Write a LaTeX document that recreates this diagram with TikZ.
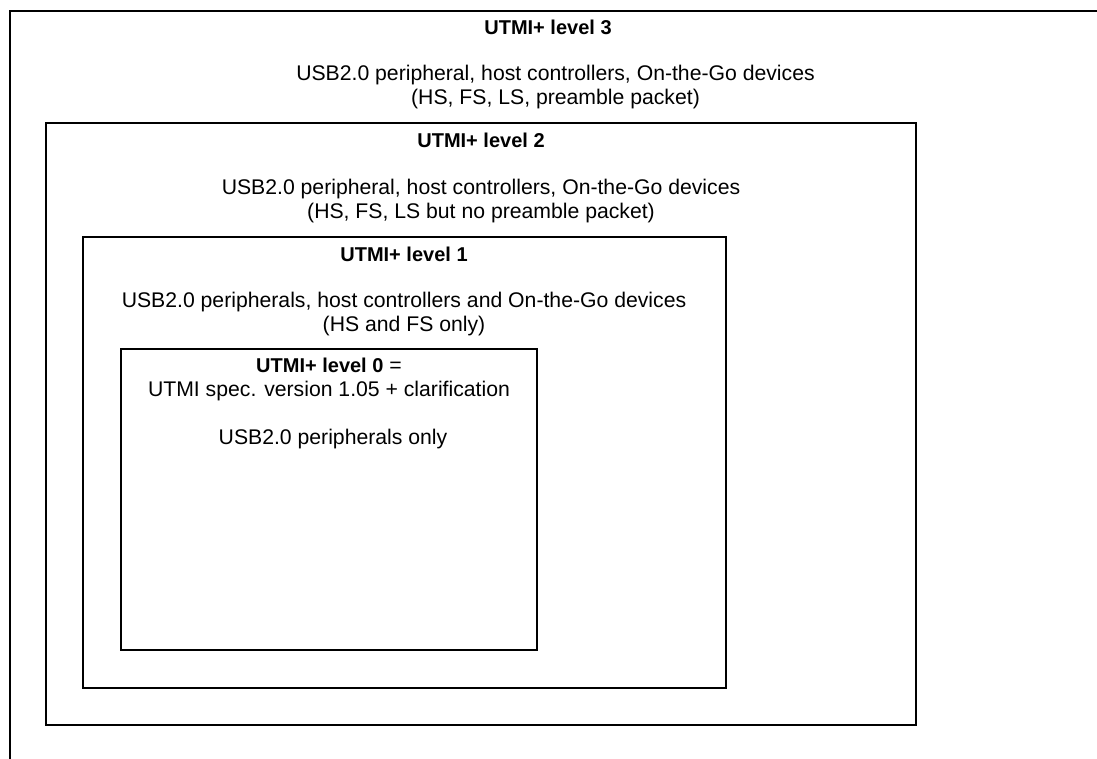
\documentclass[tikz,border=0pt]{standalone}
\usepackage{fontspec}
\setmainfont{Liberation Sans}
\usepackage{tikz}
\tikzset{
  levelbox/.style={draw=black,line width=2pt,inner sep=0pt},
  leveltext/.style={align=center,inner sep=0pt,font=\fontsize{21.2}{24}\selectfont},
}
\newcommand{\leveltitle}[1]{{\fontsize{20}{24}\selectfont\bfseries #1}}

\begin{document}
\begin{tikzpicture}[scale=1.000000,x=1pt,y=1pt]
\clip (0.000000, 0.000000) rectangle (1097.000000, 759.000000);
\fill[color=white] (0.000000, 0.000000) rectangle (1097.000000, 759.000000);
% Drawing boxes
\node[levelbox,minimum width=1200pt,minimum height=800pt,anchor=north west] (lvlthree) at (9.000000, 749.000000) {};
\node[levelbox,minimum width=870pt,minimum height=602pt] (lvltwo) at (481.000000, 335.000000) {};
\node[levelbox,minimum width=643pt,minimum height=451pt] (lvlone) at (404.500000, 296.500000) {};
\node[levelbox,minimum width=416pt,minimum height=301pt] (lvlzero) at (329.000000, 259.500000) {};
% Done with boxes; drawing texts
% Level 3
\node[leveltext] (titlethree) at (548.000000, 732.000000) {\leveltitle{UTMI+ level 3}};
\node[leveltext] (descthree) at (555.500000, 672.000000) {USB2.0 peripheral, host controllers, On-the-Go devices\\(HS, FS, LS, preamble packet)};
% Level 2
\node[leveltext] (titletwo) at (481.000000, 619.000000) {\leveltitle{UTMI+ level 2}};
\node[leveltext] (desctwo) at (481.000000, 558.000000) {USB2.0 peripheral, host controllers, On-the-Go devices\\(HS, FS, LS but no preamble packet)};
% Level 1
\node[leveltext] (titleone) at (404.000000, 505.000000) {\leveltitle{UTMI+ level 1}};
\node[leveltext] (descone) at (404.000000, 445.000000) {USB2.0 peripherals, host controllers and On-the-Go devices\\(HS and FS only)};
% Level 0
\node[leveltext] (titlezero) at (329.000000, 380.000000) {\leveltitle{UTMI+ level 0} =\\UTMI spec. version 1.05 + clarification};
\node[leveltext] (desczero) at (333.000000, 320.000000) {USB2.0 peripherals only};
% Done with texts
\end{tikzpicture}
\end{document}
